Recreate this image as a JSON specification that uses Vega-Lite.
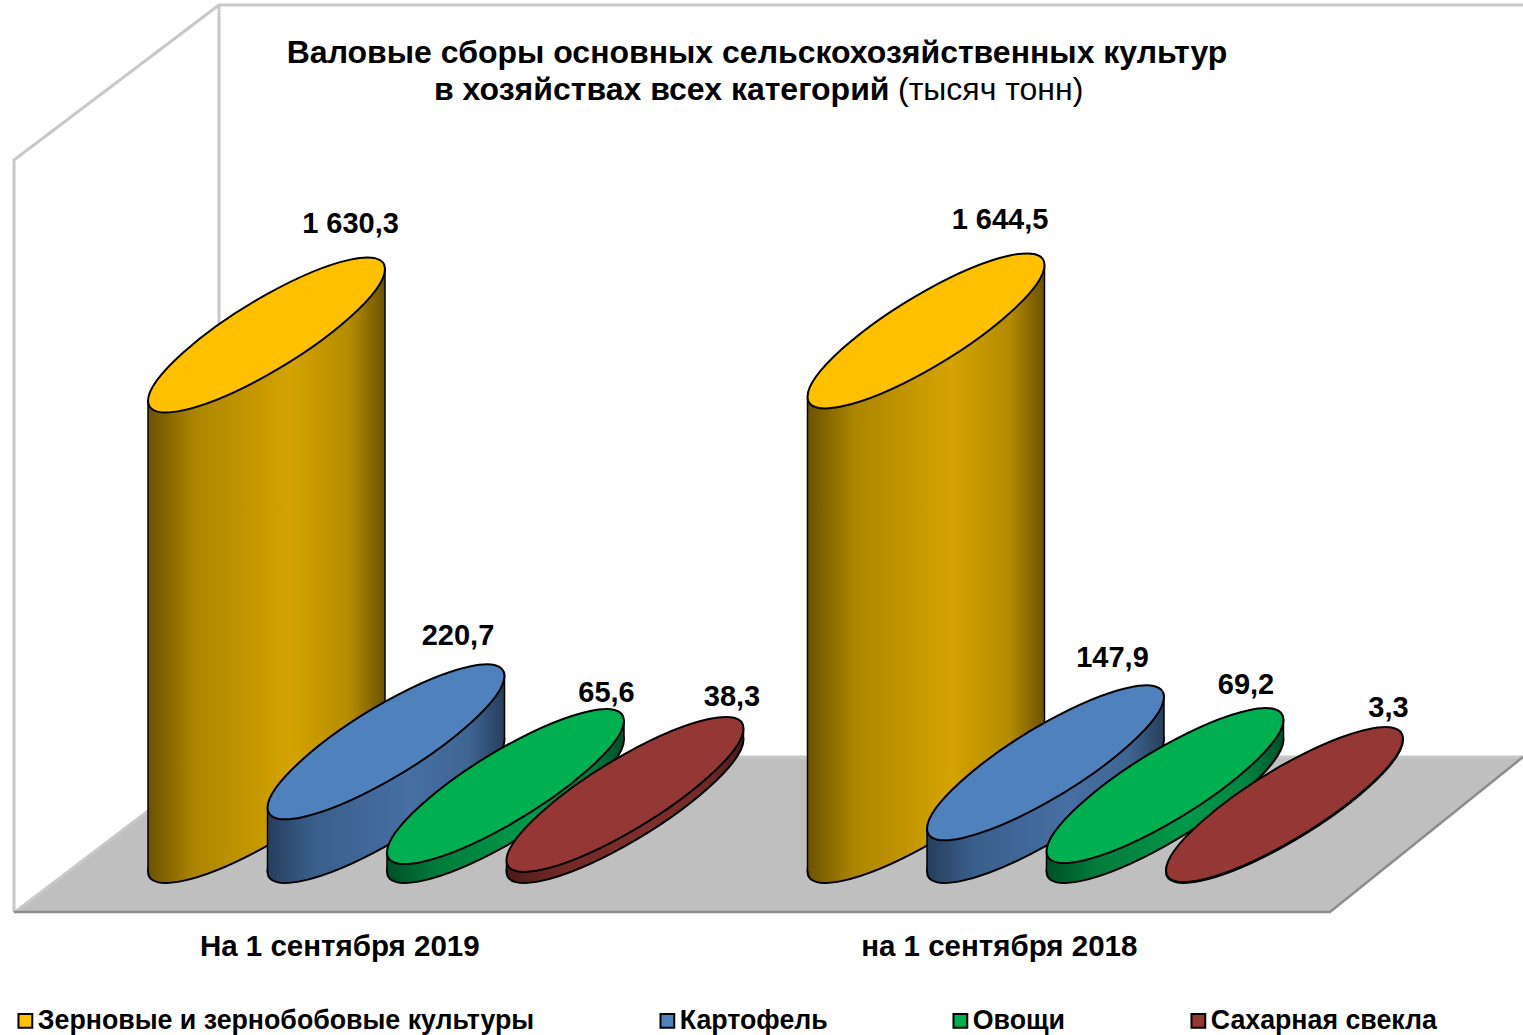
{
"$schema":"https://vega.github.io/schema/vega-lite/v6.json",
"width":1523,"height":1035,"padding":0,"autosize":"none","background":"#ffffff",
"config":{"view":{"stroke":null},"font":"Liberation Sans","axisX":{"domain":false,"ticks":false,"grid":false,"labelAngle":0,"offset":-89,"labelPadding":0,"labelBaseline":"middle","labelOffset":-106,"labelFontSize":29.5,"labelFontWeight":"bold","labelColor":"#000","labelFont":"Liberation Sans","labelLimit":600,"title":null},"point":{"shape":"M118.5,-66C118.5,-43.58,65.45,4.15,0,40.6C-65.45,77.05,-118.5,88.42,-118.5,66C-118.5,43.58,-65.45,-4.15,0,-40.6C65.45,-77.05,118.5,-88.42,118.5,-66Z","size":4}},
"datasets":{"rows":[
{"group":"На 1 сентября 2019","crop":"Зерновые и зернобобовые культуры","value":1630.3,"label":"1 630,3"},
{"group":"На 1 сентября 2019","crop":"Картофель","value":220.7,"label":"220,7"},
{"group":"На 1 сентября 2019","crop":"Овощи","value":65.6,"label":"65,6"},
{"group":"На 1 сентября 2019","crop":"Сахарная свекла","value":38.3,"label":"38,3"},
{"group":"на 1 сентября 2018","crop":"Зерновые и зернобобовые культуры","value":1644.5,"label":"1 644,5"},
{"group":"на 1 сентября 2018","crop":"Картофель","value":147.9,"label":"147,9"},
{"group":"на 1 сентября 2018","crop":"Овощи","value":69.2,"label":"69,2"},
{"group":"на 1 сентября 2018","crop":"Сахарная свекла","value":3.3,"label":"3,3"}
]},
"layer":[
{"data":{"values":[{"part":"floor"}]},"mark":{"type":"point","filled":true,"fill":"#bfbfbf","stroke":null,"opacity":1,"xOffset":-179.25,"shape":"M-251.5,106.5L-47.5,-48.5L1256.5,-48.5L1063.5,106.5Z"},
"encoding":{"x":{"datum":"На 1 сентября 2019","type":"nominal","title":null},"y":{"datum":0,"type":"quantitative","axis":null}}},
{"data":{"values":[{"part":"walls"}]},"mark":{"type":"point","filled":false,"fill":null,"stroke":"#c8c8c8","strokeWidth":3,"opacity":1,"xOffset":-179.25,"shape":"M-252.5,106.5L-252.5,-645.5L-47.5,-800.5L1257,-800.5M-47.5,-800.5L-47.5,-48.5M-251.5,106.5L-47.5,-48.5L1256.5,-48.5"},
"encoding":{"x":{"datum":"На 1 сентября 2019","type":"nominal","title":null},"y":{"datum":0,"type":"quantitative","axis":null}}},
{"data":{"values":[{"part":"edge"}]},"mark":{"type":"point","filled":false,"fill":null,"stroke":"#8c8c8c","strokeWidth":2.5,"opacity":1,"xOffset":-179.25,"shape":"M-252.5,106.5L1063.5,106.5L1256.5,-48.5"},
"encoding":{"x":{"datum":"На 1 сентября 2019","type":"nominal","title":null},"y":{"datum":0,"type":"quantitative","axis":null}}},
{"data":{"values":[{"t":"Валовые сборы основных сельскохозяйственных культур"}]},"mark":{"type":"text","x":757,"y":53,"align":"center","baseline":"middle","fontSize":32,"fontWeight":"bold","color":"#000"},"encoding":{"text":{"field":"t"}}},
{"data":{"values":[{"t":"в хозяйствах всех категорий"}]},"mark":{"type":"text","x":434,"y":90,"align":"left","baseline":"middle","fontSize":32,"fontWeight":"bold","color":"#000"},"encoding":{"text":{"field":"t"}}},
{"data":{"values":[{"t":"(тысяч тонн)"}]},"mark":{"type":"text","x":898,"y":90,"align":"left","baseline":"middle","fontSize":32,"color":"#000"},"encoding":{"text":{"field":"t"}}},
{"data":{"name":"rows"},
"encoding":{
"x":{"field":"group","type":"nominal","sort":null,"title":null,"scale":{"type":"band","domain":["На 1 сентября 2019","на 1 сентября 2018"],"range":[116,1435],"paddingInner":0,"paddingOuter":0}},
"y":{"field":"value","type":"quantitative","stack":null,"title":null,"axis":null,"scale":{"domain":[0,1630.3],"range":[805.5,335],"nice":false,"zero":true}}
},
"layer":[
{"transform":[{"filter":"datum.crop=='Зерновые и зернобобовые культуры'"}],"mark":{"type":"point","filled":true,"opacity":1,"stroke":"#000","strokeWidth":2,"xOffset":-179.25,"fill":{"gradient":"linear","x1":0,"x2":1,"y1":0,"y2":0,"stops":[{"offset":0,"color":"#6b5200"},{"offset":0.2,"color":"#ad8600"},{"offset":0.6,"color":"#d4a300"},{"offset":0.85,"color":"#b58c00"},{"offset":1,"color":"#6b5200"}]}},"encoding":{"y":{"datum":0,"type":"quantitative","axis":null}}},
{"transform":[{"filter":"datum.crop=='Зерновые и зернобобовые культуры'&&datum.group=='На 1 сентября 2019'"},{"quantile":"value","probs":[0,1],"groupby":["group","crop"],"as":["prob","value"]}],"mark":{"type":"area","stroke":null,"fill":{"gradient":"linear","x1":0,"x2":1,"y1":0,"y2":0,"stops":[{"offset":0,"color":"#6b5200"},{"offset":0.2,"color":"#ad8600"},{"offset":0.6,"color":"#d4a300"},{"offset":0.85,"color":"#b58c00"},{"offset":1,"color":"#6b5200"}]},"xOffset":{"expr":"-179.25+(datum.prob==0?-118.5:118.5)"},"yOffset":{"expr":"datum.prob==0?66:-66"},"y2Offset":{"expr":"datum.prob==0?66:-66"}},"encoding":{"y2":{"datum":0}}},
{"transform":[{"filter":"datum.crop=='Зерновые и зернобобовые культуры'&&datum.group=='на 1 сентября 2018'"},{"quantile":"value","probs":[0,1],"groupby":["group","crop"],"as":["prob","value"]}],"mark":{"type":"area","stroke":null,"fill":{"gradient":"linear","x1":0,"x2":1,"y1":0,"y2":0,"stops":[{"offset":0,"color":"#6b5200"},{"offset":0.2,"color":"#ad8600"},{"offset":0.6,"color":"#d4a300"},{"offset":0.85,"color":"#b58c00"},{"offset":1,"color":"#6b5200"}]},"xOffset":{"expr":"-179.25+(datum.prob==0?-118.5:118.5)"},"yOffset":{"expr":"datum.prob==0?66:-66"},"y2Offset":{"expr":"datum.prob==0?66:-66"}},"encoding":{"y2":{"datum":0}}},
{"transform":[{"filter":"datum.crop=='Зерновые и зернобобовые культуры'"},{"quantile":"value","probs":[0,1],"groupby":["group","crop"],"as":["prob","value"]}],"mark":{"type":"rule","color":"#000","strokeWidth":1.5,"xOffset":{"expr":"-179.25+(datum.prob==0?-118.5:118.5)"},"yOffset":{"expr":"datum.prob==0?66:-66"},"y2Offset":{"expr":"datum.prob==0?66:-66"}},"encoding":{"y2":{"datum":0}}},
{"transform":[{"filter":"datum.crop=='Зерновые и зернобобовые культуры'"}],"mark":{"type":"point","filled":true,"opacity":1,"stroke":"#000","strokeWidth":2,"xOffset":-179.25},"encoding":{"fill":{"field":"crop","type":"nominal","sort":null,"scale":{"domain":["Зерновые и зернобобовые культуры","Картофель","Овощи","Сахарная свекла"],"range":["#ffc000","#4f81bd","#00b050","#953735"]},"legend":{"title":null,"orient":"none","legendX":12,"legendY":1007,"direction":"horizontal","columns":4,"columnPadding":119,"symbolType":"square","symbolSize":190,"symbolStrokeColor":"#000","symbolStrokeWidth":2,"symbolOpacity":1,"labelFontSize":26.75,"labelFontWeight":"bold","labelColor":"#000","labelFont":"Liberation Sans","labelLimit":700,"labelOffset":-1}}}},

{"transform":[{"filter":"datum.crop=='Картофель'"}],"mark":{"type":"point","filled":true,"opacity":1,"stroke":"#000","strokeWidth":2,"xOffset":-59.75,"fill":{"gradient":"linear","x1":0,"x2":1,"y1":0,"y2":0,"stops":[{"offset":0,"color":"#263e5c"},{"offset":0.2,"color":"#3a5f8c"},{"offset":0.6,"color":"#466fa3"},{"offset":0.85,"color":"#3f6592"},{"offset":1,"color":"#263e5c"}]}},"encoding":{"y":{"datum":0,"type":"quantitative","axis":null}}},
{"transform":[{"filter":"datum.crop=='Картофель'&&datum.group=='На 1 сентября 2019'"},{"quantile":"value","probs":[0,1],"groupby":["group","crop"],"as":["prob","value"]}],"mark":{"type":"area","stroke":null,"fill":{"gradient":"linear","x1":0,"x2":1,"y1":0,"y2":0,"stops":[{"offset":0,"color":"#263e5c"},{"offset":0.2,"color":"#3a5f8c"},{"offset":0.6,"color":"#466fa3"},{"offset":0.85,"color":"#3f6592"},{"offset":1,"color":"#263e5c"}]},"xOffset":{"expr":"-59.75+(datum.prob==0?-118.5:118.5)"},"yOffset":{"expr":"datum.prob==0?66:-66"},"y2Offset":{"expr":"datum.prob==0?66:-66"}},"encoding":{"y2":{"datum":0}}},
{"transform":[{"filter":"datum.crop=='Картофель'&&datum.group=='на 1 сентября 2018'"},{"quantile":"value","probs":[0,1],"groupby":["group","crop"],"as":["prob","value"]}],"mark":{"type":"area","stroke":null,"fill":{"gradient":"linear","x1":0,"x2":1,"y1":0,"y2":0,"stops":[{"offset":0,"color":"#263e5c"},{"offset":0.2,"color":"#3a5f8c"},{"offset":0.6,"color":"#466fa3"},{"offset":0.85,"color":"#3f6592"},{"offset":1,"color":"#263e5c"}]},"xOffset":{"expr":"-59.75+(datum.prob==0?-118.5:118.5)"},"yOffset":{"expr":"datum.prob==0?66:-66"},"y2Offset":{"expr":"datum.prob==0?66:-66"}},"encoding":{"y2":{"datum":0}}},
{"transform":[{"filter":"datum.crop=='Картофель'"},{"quantile":"value","probs":[0,1],"groupby":["group","crop"],"as":["prob","value"]}],"mark":{"type":"rule","color":"#000","strokeWidth":1.5,"xOffset":{"expr":"-59.75+(datum.prob==0?-118.5:118.5)"},"yOffset":{"expr":"datum.prob==0?66:-66"},"y2Offset":{"expr":"datum.prob==0?66:-66"}},"encoding":{"y2":{"datum":0}}},
{"transform":[{"filter":"datum.crop=='Картофель'"}],"mark":{"type":"point","filled":true,"opacity":1,"stroke":"#000","strokeWidth":2,"xOffset":-59.75},"encoding":{"fill":{"field":"crop","type":"nominal","sort":null}}},

{"transform":[{"filter":"datum.crop=='Овощи'"}],"mark":{"type":"point","filled":true,"opacity":1,"stroke":"#000","strokeWidth":2,"xOffset":59.75,"fill":{"gradient":"linear","x1":0,"x2":1,"y1":0,"y2":0,"stops":[{"offset":0,"color":"#004f27"},{"offset":0.2,"color":"#007a3a"},{"offset":0.6,"color":"#009a49"},{"offset":0.85,"color":"#008240"},{"offset":1,"color":"#004f27"}]}},"encoding":{"y":{"datum":0,"type":"quantitative","axis":null}}},
{"transform":[{"filter":"datum.crop=='Овощи'&&datum.group=='На 1 сентября 2019'"},{"quantile":"value","probs":[0,1],"groupby":["group","crop"],"as":["prob","value"]}],"mark":{"type":"area","stroke":null,"fill":{"gradient":"linear","x1":0,"x2":1,"y1":0,"y2":0,"stops":[{"offset":0,"color":"#004f27"},{"offset":0.2,"color":"#007a3a"},{"offset":0.6,"color":"#009a49"},{"offset":0.85,"color":"#008240"},{"offset":1,"color":"#004f27"}]},"xOffset":{"expr":"59.75+(datum.prob==0?-118.5:118.5)"},"yOffset":{"expr":"datum.prob==0?66:-66"},"y2Offset":{"expr":"datum.prob==0?66:-66"}},"encoding":{"y2":{"datum":0}}},
{"transform":[{"filter":"datum.crop=='Овощи'&&datum.group=='на 1 сентября 2018'"},{"quantile":"value","probs":[0,1],"groupby":["group","crop"],"as":["prob","value"]}],"mark":{"type":"area","stroke":null,"fill":{"gradient":"linear","x1":0,"x2":1,"y1":0,"y2":0,"stops":[{"offset":0,"color":"#004f27"},{"offset":0.2,"color":"#007a3a"},{"offset":0.6,"color":"#009a49"},{"offset":0.85,"color":"#008240"},{"offset":1,"color":"#004f27"}]},"xOffset":{"expr":"59.75+(datum.prob==0?-118.5:118.5)"},"yOffset":{"expr":"datum.prob==0?66:-66"},"y2Offset":{"expr":"datum.prob==0?66:-66"}},"encoding":{"y2":{"datum":0}}},
{"transform":[{"filter":"datum.crop=='Овощи'"},{"quantile":"value","probs":[0,1],"groupby":["group","crop"],"as":["prob","value"]}],"mark":{"type":"rule","color":"#000","strokeWidth":1.5,"xOffset":{"expr":"59.75+(datum.prob==0?-118.5:118.5)"},"yOffset":{"expr":"datum.prob==0?66:-66"},"y2Offset":{"expr":"datum.prob==0?66:-66"}},"encoding":{"y2":{"datum":0}}},
{"transform":[{"filter":"datum.crop=='Овощи'"}],"mark":{"type":"point","filled":true,"opacity":1,"stroke":"#000","strokeWidth":2,"xOffset":59.75},"encoding":{"fill":{"field":"crop","type":"nominal","sort":null}}},

{"transform":[{"filter":"datum.crop=='Сахарная свекла'"}],"mark":{"type":"point","filled":true,"opacity":1,"stroke":"#000","strokeWidth":2,"xOffset":179.25,"fill":{"gradient":"linear","x1":0,"x2":1,"y1":0,"y2":0,"stops":[{"offset":0,"color":"#4a1a19"},{"offset":0.2,"color":"#6e2826"},{"offset":0.6,"color":"#802f2d"},{"offset":0.85,"color":"#702927"},{"offset":1,"color":"#4a1a19"}]}},"encoding":{"y":{"datum":0,"type":"quantitative","axis":null}}},
{"transform":[{"filter":"datum.crop=='Сахарная свекла'&&datum.group=='На 1 сентября 2019'"},{"quantile":"value","probs":[0,1],"groupby":["group","crop"],"as":["prob","value"]}],"mark":{"type":"area","stroke":null,"fill":{"gradient":"linear","x1":0,"x2":1,"y1":0,"y2":0,"stops":[{"offset":0,"color":"#4a1a19"},{"offset":0.2,"color":"#6e2826"},{"offset":0.6,"color":"#802f2d"},{"offset":0.85,"color":"#702927"},{"offset":1,"color":"#4a1a19"}]},"xOffset":{"expr":"179.25+(datum.prob==0?-118.5:118.5)"},"yOffset":{"expr":"datum.prob==0?66:-66"},"y2Offset":{"expr":"datum.prob==0?66:-66"}},"encoding":{"y2":{"datum":0}}},
{"transform":[{"filter":"datum.crop=='Сахарная свекла'&&datum.group=='на 1 сентября 2018'"},{"quantile":"value","probs":[0,1],"groupby":["group","crop"],"as":["prob","value"]}],"mark":{"type":"area","stroke":null,"fill":{"gradient":"linear","x1":0,"x2":1,"y1":0,"y2":0,"stops":[{"offset":0,"color":"#4a1a19"},{"offset":0.2,"color":"#6e2826"},{"offset":0.6,"color":"#802f2d"},{"offset":0.85,"color":"#702927"},{"offset":1,"color":"#4a1a19"}]},"xOffset":{"expr":"179.25+(datum.prob==0?-118.5:118.5)"},"yOffset":{"expr":"datum.prob==0?66:-66"},"y2Offset":{"expr":"datum.prob==0?66:-66"}},"encoding":{"y2":{"datum":0}}},
{"transform":[{"filter":"datum.crop=='Сахарная свекла'"},{"quantile":"value","probs":[0,1],"groupby":["group","crop"],"as":["prob","value"]}],"mark":{"type":"rule","color":"#000","strokeWidth":1.5,"xOffset":{"expr":"179.25+(datum.prob==0?-118.5:118.5)"},"yOffset":{"expr":"datum.prob==0?66:-66"},"y2Offset":{"expr":"datum.prob==0?66:-66"}},"encoding":{"y2":{"datum":0}}},
{"transform":[{"filter":"datum.crop=='Сахарная свекла'"}],"mark":{"type":"point","filled":true,"opacity":1,"stroke":"#000","strokeWidth":2,"xOffset":179.25},"encoding":{"fill":{"field":"crop","type":"nominal","sort":null}}},

{"mark":{"type":"text","fontSize":29,"fontWeight":"bold","color":"#000","baseline":"middle","align":"center",
"dx":{"expr":"(datum.group=='На 1 сентября 2019'?[-95.25,12.25,160.75,286.25]:[-105.25,7.25,140.75,283.25])[indexof(['Зерновые и зернобобовые культуры','Картофель','Овощи','Сахарная свекла'],datum.crop)]"},
"dy":{"expr":"(datum.group=='На 1 сентября 2019'?[-111,-106,-94,-97]:[-111,-105,-101,-97])[indexof(['Зерновые и зернобобовые культуры','Картофель','Овощи','Сахарная свекла'],datum.crop)]"}},
"encoding":{"text":{"field":"label"}}}
]}
]}
